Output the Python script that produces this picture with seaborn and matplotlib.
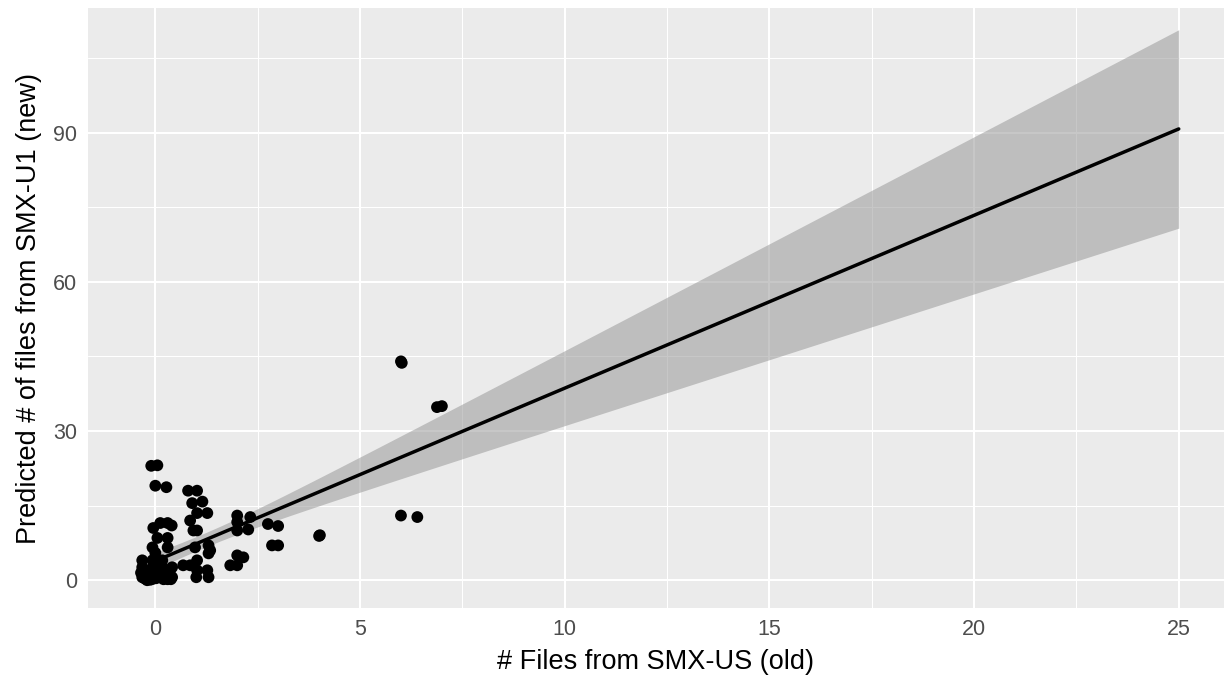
import numpy as np
import pandas as pd
import matplotlib
matplotlib.use("Agg")
import matplotlib.pyplot as plt
import seaborn as sns
from matplotlib.ticker import MultipleLocator

# jittered points (old count vs predicted new count)
old_files = [
    -0.10, 0.05, 0.00, 0.27, -0.05, 0.12, 0.30, 0.40, 0.05, 0.30,
    -0.07, 0.30, 0.00, -0.32, -0.07, 0.17, -0.32, -0.07, 0.17, 0.41,
    -0.32, -0.07, 0.17, 0.41, -0.35, 0.35, 0.20, 0.05, -0.20, 0.10,
    -0.25, -0.15, 0.00, 0.10, 0.25, 0.33, -0.30, -0.12, 0.08, 0.22,
    0.38, -0.02, -0.28, -0.05, 0.15, 0.30, -0.18, 0.02,
    0.80, 1.02, 0.90, 1.15, 1.02, 1.27, 0.85, 0.93, 1.02, 0.97,
    1.30, 1.34, 1.30, 0.68, 1.02, 1.02, 1.27, 1.00, 1.30, 0.85,
    2.00, 2.00, 2.32, 2.00, 2.27, 2.00, 2.15, 1.83, 2.00,
    2.75, 3.00, 2.85, 3.00, 4.02, 4.00,
    6.00, 6.40, 6.00, 6.02, 6.88, 7.00,
]
pred_new = [
    23.0, 23.1, 19.0, 18.7, 10.5, 11.5, 11.5, 11.0, 8.5, 8.5,
    6.6, 6.6, 5.5, 4.0, 4.0, 4.0, 2.6, 2.6, 2.6, 2.6,
    0.6, 0.6, 0.6, 0.6, 1.5, 1.8, 0.2, 2.0, 0.0, 3.0,
    0.3, 1.2, 0.8, 1.6, 0.4, 1.0, 2.2, 0.1, 2.8, 1.9,
    0.2, 1.4, 0.5, 0.3, 0.7, 0.2, 0.6, 0.4,
    18.0, 18.0, 15.5, 15.8, 13.5, 13.5, 12.0, 10.0, 10.0, 6.6,
    7.0, 6.0, 5.4, 3.0, 4.0, 2.0, 2.0, 0.6, 0.6, 3.0,
    13.0, 11.7, 12.7, 10.0, 10.2, 5.0, 4.6, 3.0, 3.0,
    11.3, 10.9, 7.0, 7.0, 9.05, 8.9,
    13.0, 12.7, 44.0, 43.7, 34.8, 35.0,
]
x_ticks = [0, 5, 10, 15, 20, 25]
y_ticks = [0, 30, 60, 90]

df = pd.DataFrame({"old": old_files, "new": pred_new})

sns.set_theme(style="darkgrid")
plt.rcParams["font.family"] = ["Liberation Sans", "DejaVu Sans"]

fig, ax = plt.subplots(figsize=(12.25, 6.84), dpi=100)
fig.subplots_adjust(left=0.072, right=0.999, bottom=0.111, top=0.988)

# fit line and 95% band over the full x range, like geom_smooth(method="lm", fullrange=TRUE)
fit = np.polyfit(df["old"], df["new"], 1)
n = len(df)
resid = df["new"] - np.polyval(fit, df["old"])
s = np.sqrt((resid ** 2).sum() / (n - 2))
xbar = df["old"].mean()
sxx = ((df["old"] - xbar) ** 2).sum()
grid = pd.DataFrame({"old": np.linspace(0, 25, 80)})
grid["fit"] = np.polyval(fit, grid["old"])
se = s * np.sqrt(1 / n + (grid["old"] - xbar) ** 2 / sxx)
ax.fill_between(grid["old"], grid["fit"] - 1.99 * se, grid["fit"] + 1.99 * se,
                color="#999999", alpha=0.55, linewidth=0, zorder=2)

sns.scatterplot(data=df, x="old", y="new", color="black", s=72,
                edgecolor="none", ax=ax, zorder=3)
sns.lineplot(data=grid, x="old", y="fit", color="black", linewidth=2.5,
             ax=ax, zorder=4)

ax.set_facecolor("#EBEBEB")
ax.set_xlim(-1.64, 26.1)
ax.set_ylim(-5.6, 115)
ax.set_xticks(x_ticks)
ax.set_yticks(y_ticks)
ax.xaxis.set_minor_locator(MultipleLocator(2.5))
ax.yaxis.set_minor_locator(MultipleLocator(15))
ax.grid(which="major", color="white", linewidth=1.5)
ax.grid(which="minor", color="white", linewidth=0.75)
for sp in ax.spines.values():
    sp.set_visible(False)
ax.tick_params(which="major", length=5, width=1.3, color="#333333",
               labelsize=15.5, labelcolor="#4D4D4D", pad=3)
ax.tick_params(which="minor", length=0)

ax.set_xlabel("# Files from SMX-US (old)", fontsize=19.5, color="black", labelpad=6)
ax.set_ylabel("Predicted # of files from SMX-U1 (new)", fontsize=19.5,
              color="black", labelpad=8)

fig.savefig("out.png", dpi=100)
